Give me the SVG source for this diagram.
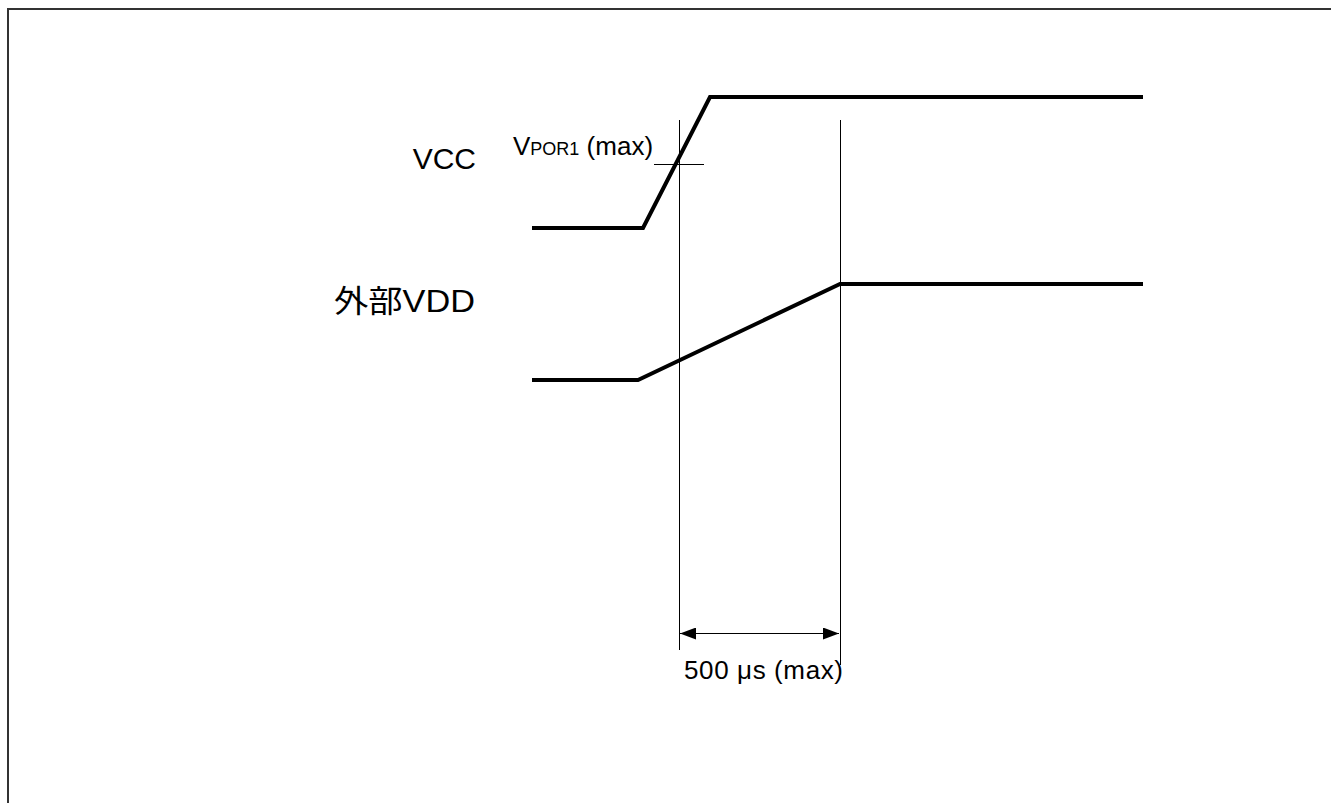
<svg xmlns="http://www.w3.org/2000/svg" width="1331" height="803" viewBox="0 0 1331 803">
<defs>
<style>
.frame{fill:none;stroke:#333;stroke-width:2}
.wave{fill:none;stroke:#000;stroke-width:4;stroke-linejoin:miter}
.thin{fill:none;stroke:#000;stroke-width:1}
.lbl{font-family:"Liberation Sans","Noto Sans CJK JP",sans-serif;fill:#000}
</style>
<marker id="ah" viewBox="0 0 16 12" refX="16" refY="6" markerWidth="16" markerHeight="12" markerUnits="userSpaceOnUse" orient="auto-start-reverse">
<path d="M0,0 L16,6 L0,12 z" fill="#000"/>
</marker>
</defs>
<rect width="1331" height="803" fill="#fff"/>
<path class="frame" d="M8,803 V9 H1331"/>
<g id="vcc">
<text class="lbl" x="476" y="169" font-size="30" text-anchor="end">VCC</text>
<path class="wave" d="M532,228 L643,228 L710,97 L1143,97"/>
</g>
<g id="vdd">
<text class="lbl" x="475" y="312" font-size="31" text-anchor="end" textLength="141" lengthAdjust="spacingAndGlyphs">外部VDD</text>
<path class="wave" d="M532,380 L638,380 L840,284 L1143,284"/>
</g>
<g id="vpor">
<text class="lbl" x="513" y="155" font-size="26">V<tspan font-size="18">POR1</tspan> (max)</text>
<line class="thin" x1="654" y1="164.5" x2="704" y2="164.5"/>
</g>
<g id="connectors">
<line class="thin" x1="679.5" y1="120" x2="679.5" y2="650"/>
<line class="thin" x1="840.5" y1="120" x2="840.5" y2="665"/>
<line class="thin" x1="680" y1="633.5" x2="839" y2="633.5" marker-start="url(#ah)" marker-end="url(#ah)"/>
</g>
<g id="duration">
<text class="lbl" x="684" y="679" font-size="26" textLength="159" lengthAdjust="spacing">500 μs (max)</text>
</g>
</svg>
